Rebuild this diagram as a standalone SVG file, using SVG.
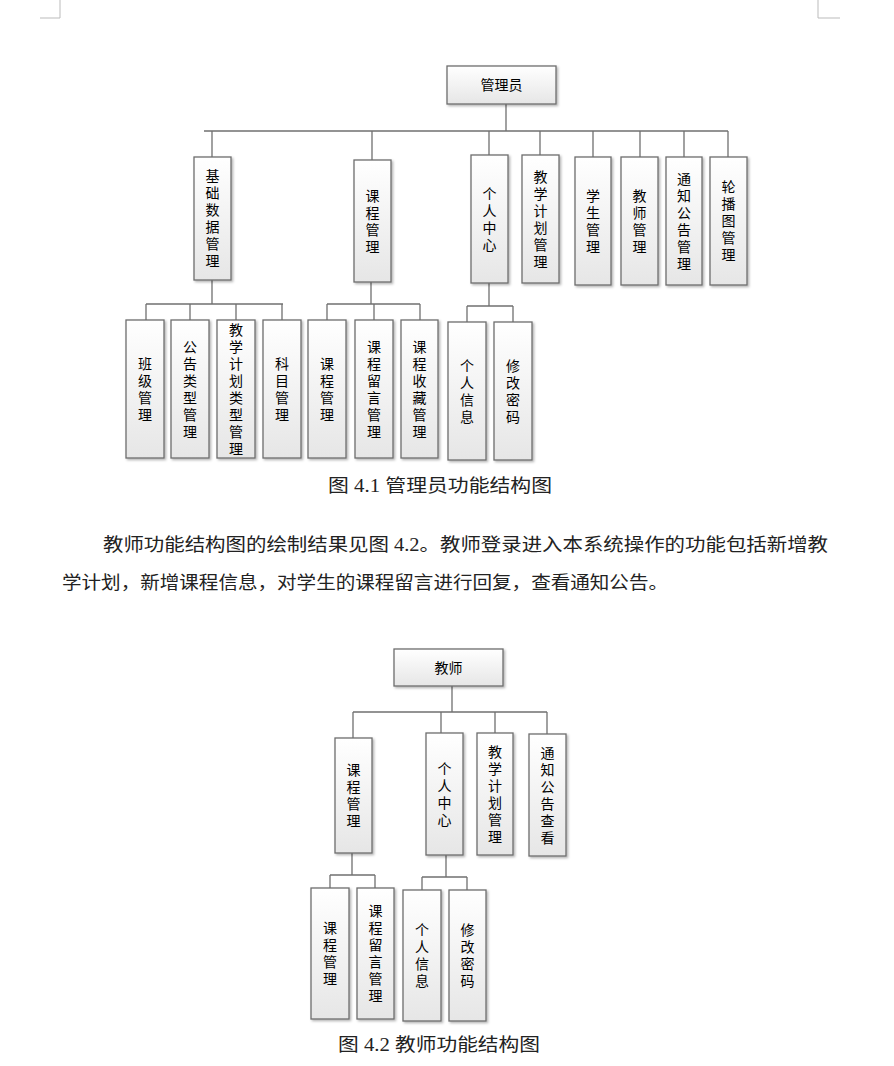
<svg xmlns="http://www.w3.org/2000/svg" width="894" height="1066" viewBox="0 0 894 1066">
<defs>
<linearGradient id="g" x1="0" y1="0" x2="0" y2="1"><stop offset="0" stop-color="#ffffff"/><stop offset="1" stop-color="#e6e6e6"/></linearGradient>
<filter id="sh" x="-20%" y="-20%" width="140%" height="140%"><feDropShadow dx="1.5" dy="1.5" stdDeviation="0.8" flood-color="#000" flood-opacity="0.3"/></filter>
<style>
.b{fill:url(#g);stroke:#6e6e6e;stroke-width:1.3;filter:url(#sh)}
.t{font-family:"Noto Sans CJK SC","Liberation Sans",sans-serif;font-size:14px;fill:#000;text-anchor:middle}
.c{fill:none;stroke:#707070;stroke-width:1.3}
.cap{font-family:"Liberation Serif","Noto Sans CJK SC",serif;font-size:18px;fill:#222}
.p{font-family:"Liberation Serif","Noto Sans CJK SC",serif;font-size:18px;fill:#222}
.m{stroke:#bbb;stroke-width:1;fill:none}
</style>
</defs>
<rect width="894" height="1066" fill="#fff"/>
<path class="m" d="M60 0V18H40M818 0V18H840"/>
<g id="connectors">
<path class="c" d="M506 104V131M204 131H728M212 131V157M372 131V160M489 131V155M540 131V155M593 131V157M640 131V157M684 131V157M728 131V157"/>
<path class="c" d="M212 280V304M146 304H283M146 304V320M190 304V320M236 304V320M282 304V320"/>
<path class="c" d="M371 282V304M327 304H420M327 304V320M374 304V320M420 304V320"/>
<path class="c" d="M489 283V306M467 306H513M467 306V322M513 306V322"/>
<path class="c" d="M452 686V712M353 712H547M353 712V738M441 712V733M495 712V733M547 712V734"/>
<path class="c" d="M352 853V875M330 875H375M330 875V888M375 875V888"/>
<path class="c" d="M446 855V877M422 877H467M422 877V890M467 877V890"/>
</g>
<g id="n_admin"><rect class="b" x="447" y="66" width="109" height="38"/><text class="t" x="501.5" y="90">管理员</text></g>
<g id="n_jcsj"><rect class="b" x="194" y="157" width="37" height="123"/><text class="t" x="212.5" y="181"><tspan x="212.5">基</tspan><tspan x="212.5" dy="17">础</tspan><tspan x="212.5" dy="17">数</tspan><tspan x="212.5" dy="17">据</tspan><tspan x="212.5" dy="17">管</tspan><tspan x="212.5" dy="17">理</tspan></text></g>
<g id="n_kcgl"><rect class="b" x="354" y="160" width="37" height="122"/><text class="t" x="372.5" y="200.5"><tspan x="372.5">课</tspan><tspan x="372.5" dy="17">程</tspan><tspan x="372.5" dy="17">管</tspan><tspan x="372.5" dy="17">理</tspan></text></g>
<g id="n_grzx"><rect class="b" x="471" y="155" width="37" height="128"/><text class="t" x="489.5" y="198.5"><tspan x="489.5">个</tspan><tspan x="489.5" dy="17">人</tspan><tspan x="489.5" dy="17">中</tspan><tspan x="489.5" dy="17">心</tspan></text></g>
<g id="n_jxjh"><rect class="b" x="522" y="155" width="37" height="128"/><text class="t" x="540.5" y="181.5"><tspan x="540.5">教</tspan><tspan x="540.5" dy="17">学</tspan><tspan x="540.5" dy="17">计</tspan><tspan x="540.5" dy="17">划</tspan><tspan x="540.5" dy="17">管</tspan><tspan x="540.5" dy="17">理</tspan></text></g>
<g id="n_xsgl"><rect class="b" x="575" y="157" width="36" height="128"/><text class="t" x="593" y="200.5"><tspan x="593">学</tspan><tspan x="593" dy="17">生</tspan><tspan x="593" dy="17">管</tspan><tspan x="593" dy="17">理</tspan></text></g>
<g id="n_jsgl"><rect class="b" x="621" y="157" width="37" height="128"/><text class="t" x="639.5" y="200.5"><tspan x="639.5">教</tspan><tspan x="639.5" dy="17">师</tspan><tspan x="639.5" dy="17">管</tspan><tspan x="639.5" dy="17">理</tspan></text></g>
<g id="n_tzgg"><rect class="b" x="666" y="157" width="36" height="128"/><text class="t" x="684" y="183.5"><tspan x="684">通</tspan><tspan x="684" dy="17">知</tspan><tspan x="684" dy="17">公</tspan><tspan x="684" dy="17">告</tspan><tspan x="684" dy="17">管</tspan><tspan x="684" dy="17">理</tspan></text></g>
<g id="n_lbt"><rect class="b" x="710" y="157" width="37" height="128"/><text class="t" x="728.5" y="192"><tspan x="728.5">轮</tspan><tspan x="728.5" dy="17">播</tspan><tspan x="728.5" dy="17">图</tspan><tspan x="728.5" dy="17">管</tspan><tspan x="728.5" dy="17">理</tspan></text></g>
<g id="n_bj"><rect class="b" x="126" y="320" width="38" height="138"/><text class="t" x="145" y="368.5"><tspan x="145">班</tspan><tspan x="145" dy="17">级</tspan><tspan x="145" dy="17">管</tspan><tspan x="145" dy="17">理</tspan></text></g>
<g id="n_gglx"><rect class="b" x="171" y="320" width="38" height="138"/><text class="t" x="190" y="351.5"><tspan x="190">公</tspan><tspan x="190" dy="17">告</tspan><tspan x="190" dy="17">类</tspan><tspan x="190" dy="17">型</tspan><tspan x="190" dy="17">管</tspan><tspan x="190" dy="17">理</tspan></text></g>
<g id="n_jxjhlx"><rect class="b" x="217" y="320" width="38" height="138"/><text class="t" x="236" y="334.5"><tspan x="236">教</tspan><tspan x="236" dy="17">学</tspan><tspan x="236" dy="17">计</tspan><tspan x="236" dy="17">划</tspan><tspan x="236" dy="17">类</tspan><tspan x="236" dy="17">型</tspan><tspan x="236" dy="17">管</tspan><tspan x="236" dy="17">理</tspan></text></g>
<g id="n_km"><rect class="b" x="263" y="320" width="38" height="138"/><text class="t" x="282" y="368.5"><tspan x="282">科</tspan><tspan x="282" dy="17">目</tspan><tspan x="282" dy="17">管</tspan><tspan x="282" dy="17">理</tspan></text></g>
<g id="n_kc2"><rect class="b" x="308" y="320" width="38" height="138"/><text class="t" x="327" y="368.5"><tspan x="327">课</tspan><tspan x="327" dy="17">程</tspan><tspan x="327" dy="17">管</tspan><tspan x="327" dy="17">理</tspan></text></g>
<g id="n_kcly"><rect class="b" x="355" y="320" width="38" height="138"/><text class="t" x="374" y="351.5"><tspan x="374">课</tspan><tspan x="374" dy="17">程</tspan><tspan x="374" dy="17">留</tspan><tspan x="374" dy="17">言</tspan><tspan x="374" dy="17">管</tspan><tspan x="374" dy="17">理</tspan></text></g>
<g id="n_kcsc"><rect class="b" x="401" y="320" width="37" height="138"/><text class="t" x="419.5" y="351.5"><tspan x="419.5">课</tspan><tspan x="419.5" dy="17">程</tspan><tspan x="419.5" dy="17">收</tspan><tspan x="419.5" dy="17">藏</tspan><tspan x="419.5" dy="17">管</tspan><tspan x="419.5" dy="17">理</tspan></text></g>
<g id="n_grxx"><rect class="b" x="448" y="322" width="38" height="138"/><text class="t" x="467" y="370.5"><tspan x="467">个</tspan><tspan x="467" dy="17">人</tspan><tspan x="467" dy="17">信</tspan><tspan x="467" dy="17">息</tspan></text></g>
<g id="n_xgmm"><rect class="b" x="494" y="322" width="38" height="138"/><text class="t" x="513" y="370.5"><tspan x="513">修</tspan><tspan x="513" dy="17">改</tspan><tspan x="513" dy="17">密</tspan><tspan x="513" dy="17">码</tspan></text></g>
<text class="cap" x="328" y="492" textLength="224" lengthAdjust="spacingAndGlyphs">图 4.1 管理员功能结构图</text>
<text class="p" x="103" y="551" textLength="725" lengthAdjust="spacingAndGlyphs">教师功能结构图的绘制结果见图 4.2。教师登录进入本系统操作的功能包括新增教</text>
<text class="p" x="62" y="589" textLength="606" lengthAdjust="spacingAndGlyphs">学计划，新增课程信息，对学生的课程留言进行回复，查看通知公告。</text>
<g id="t_teacher"><rect class="b" x="394" y="649" width="109" height="37"/><text class="t" x="448.5" y="673">教师</text></g>
<g id="t_kcgl"><rect class="b" x="335" y="738" width="37" height="115"/><text class="t" x="353.5" y="775"><tspan x="353.5">课</tspan><tspan x="353.5" dy="17">程</tspan><tspan x="353.5" dy="17">管</tspan><tspan x="353.5" dy="17">理</tspan></text></g>
<g id="t_grzx"><rect class="b" x="426" y="733" width="37" height="122"/><text class="t" x="444.5" y="773.5"><tspan x="444.5">个</tspan><tspan x="444.5" dy="17">人</tspan><tspan x="444.5" dy="17">中</tspan><tspan x="444.5" dy="17">心</tspan></text></g>
<g id="t_jxjh"><rect class="b" x="477" y="733" width="36" height="122"/><text class="t" x="495" y="756.5"><tspan x="495">教</tspan><tspan x="495" dy="17">学</tspan><tspan x="495" dy="17">计</tspan><tspan x="495" dy="17">划</tspan><tspan x="495" dy="17">管</tspan><tspan x="495" dy="17">理</tspan></text></g>
<g id="t_tzgg"><rect class="b" x="529" y="734" width="37" height="122"/><text class="t" x="547.5" y="757.5"><tspan x="547.5">通</tspan><tspan x="547.5" dy="17">知</tspan><tspan x="547.5" dy="17">公</tspan><tspan x="547.5" dy="17">告</tspan><tspan x="547.5" dy="17">查</tspan><tspan x="547.5" dy="17">看</tspan></text></g>
<g id="t_kc2"><rect class="b" x="311" y="888" width="38" height="131"/><text class="t" x="330" y="933"><tspan x="330">课</tspan><tspan x="330" dy="17">程</tspan><tspan x="330" dy="17">管</tspan><tspan x="330" dy="17">理</tspan></text></g>
<g id="t_kcly"><rect class="b" x="357" y="888" width="37" height="131"/><text class="t" x="375.5" y="916"><tspan x="375.5">课</tspan><tspan x="375.5" dy="17">程</tspan><tspan x="375.5" dy="17">留</tspan><tspan x="375.5" dy="17">言</tspan><tspan x="375.5" dy="17">管</tspan><tspan x="375.5" dy="17">理</tspan></text></g>
<g id="t_grxx"><rect class="b" x="403" y="890" width="38" height="131"/><text class="t" x="422" y="935"><tspan x="422">个</tspan><tspan x="422" dy="17">人</tspan><tspan x="422" dy="17">信</tspan><tspan x="422" dy="17">息</tspan></text></g>
<g id="t_xgmm"><rect class="b" x="449" y="890" width="37" height="131"/><text class="t" x="467.5" y="935"><tspan x="467.5">修</tspan><tspan x="467.5" dy="17">改</tspan><tspan x="467.5" dy="17">密</tspan><tspan x="467.5" dy="17">码</tspan></text></g>
<text class="cap" x="338" y="1051" textLength="202" lengthAdjust="spacingAndGlyphs">图 4.2 教师功能结构图</text>
</svg>
